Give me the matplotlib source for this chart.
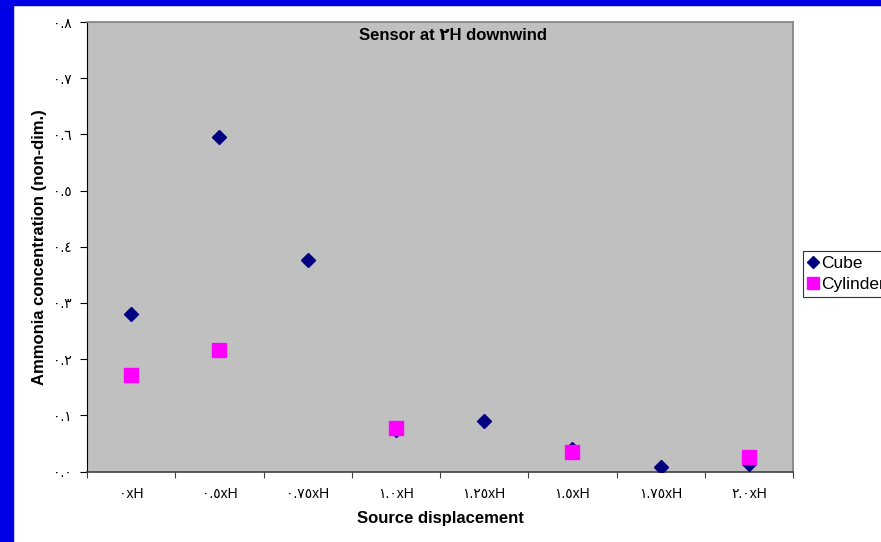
import matplotlib
matplotlib.use("Agg")
import matplotlib.pyplot as plt
from matplotlib.patches import Rectangle
import numpy as np

plt.rcParams['font.family'] = ['Liberation Sans', 'DejaVu Sans']

# categories (source displacement), Arabic-Indic digits as in the original
categories = ["٠xH", "٠.٥xH", "٠.٧٥xH", "١.٠xH", "١.٢٥xH", "١.٥xH", "١.٧٥xH", "٢.٠xH"]
cube = [0.281, 0.595, 0.376, 0.074, 0.090, 0.040, 0.008, 0.013]
cylinder = [0.172, 0.216, np.nan, 0.077, np.nan, 0.035, np.nan, 0.026]
yticks = [0.0, 0.1, 0.2, 0.3, 0.4, 0.5, 0.6, 0.7, 0.8]
ytick_labels = ["٠.٠", "٠.١", "٠.٢", "٠.٣", "٠.٤", "٠.٥", "٠.٦", "٠.٧", "٠.٨"]

W, H = 881, 542
fig = plt.figure(figsize=(W / 100, H / 100), dpi=100)
fig.patch.set_facecolor("white")

# blue window frame (left and top strips)
fig.patches.append(Rectangle((0, 0), 13 / W, 1, transform=fig.transFigure, color="#0000E6", zorder=0))
fig.patches.append(Rectangle((0, 1 - 5 / H), 1, 5 / H, transform=fig.transFigure, color="#0000E6", zorder=0))

ax = fig.add_axes([87 / W, 1 - 471.5 / H, 706 / W, 449.5 / H])
ax.set_facecolor("#C0C0C0")

x = np.arange(1, len(categories) + 1)
ax.plot(x, cube, ls="none", marker="D", ms=7.2, color="#000080", label="Cube", zorder=3)
ax.plot(x, cylinder, ls="none", marker="s", ms=10, color="#FF00FF", label="Cylinder", zorder=4)

ax.set_xlim(0.5, len(categories) + 0.5)
ax.set_ylim(0, 0.8)

ax.set_yticks(yticks)
ax.set_yticklabels(ytick_labels, fontsize=10)
ax.tick_params(axis="y", direction="out", length=5, pad=6, color="black")

ax.set_xticks(np.arange(0.5, len(categories) + 1, 1.0))
ax.set_xticklabels([])
ax.set_xticks(x, minor=True)
ax.set_xticklabels(categories, minor=True, fontsize=10)
ax.tick_params(axis="x", which="major", direction="out", length=4, color="#404040")
ax.tick_params(axis="x", which="minor", length=0, pad=11)

for s in ["top", "right"]:
    ax.spines[s].set_color("#808080")
    ax.spines[s].set_linewidth(1.2)
ax.spines["left"].set_color("black")
ax.spines["bottom"].set_color("#404040")
ax.spines["bottom"].set_linewidth(1.2)

ax.set_xlabel("Source displacement", fontsize=12, fontweight="bold")
ax.xaxis.set_label_coords(0.5, (471.5 - 519) / 449.5)
ax.xaxis.label.set_va("center")
ax.set_ylabel("Ammonia concentration (non-dim.)", fontsize=12, fontweight="bold")
ax.yaxis.set_label_coords((40 - 87) / 706, 0.5)
ax.yaxis.label.set_va("center")

fig.text(453 / W, 1 - 35 / H, "Sensor at ٢H downwind", fontsize=12, fontweight="bold",
         ha="center", va="center")

leg = fig.legend(loc="upper left", bbox_to_anchor=(803 / W, 1 - 251 / H), fontsize=12.5,
                 frameon=True, fancybox=False, edgecolor="black", borderpad=0.3,
                 handlelength=0.6, handletextpad=0.15, labelspacing=0.3, borderaxespad=0,
                 markerscale=0.85)
leg.get_frame().set_linewidth(0.8)

fig.savefig("out.png", dpi=100)
